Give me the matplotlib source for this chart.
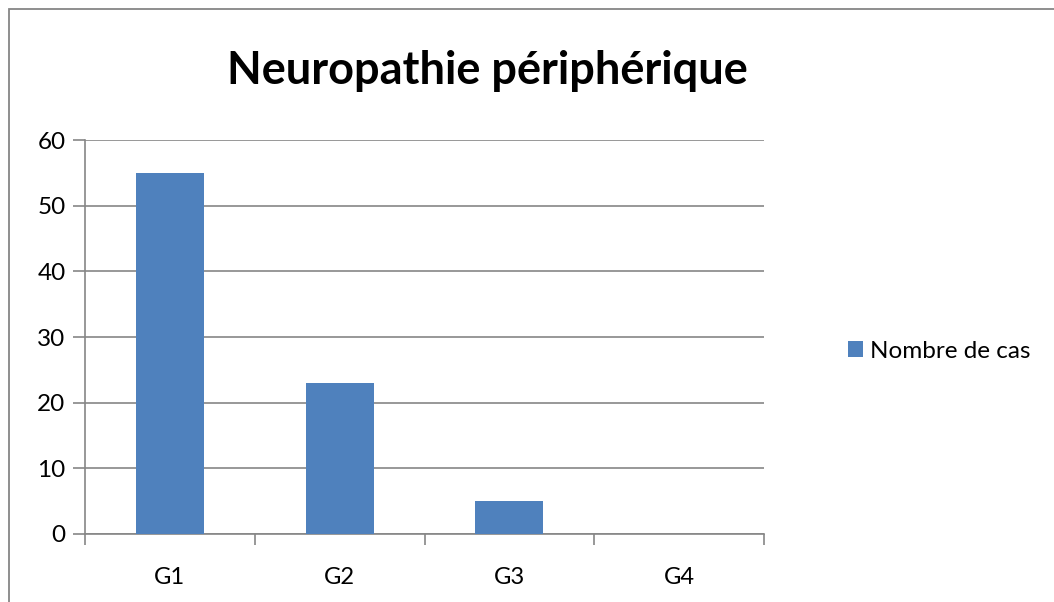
import matplotlib

matplotlib.use("Agg")
import matplotlib.pyplot as plt
from matplotlib.patches import Rectangle
import numpy as np

categories = ["G1", "G2", "G3", "G4"]
cases = [55, 23, 5, 0]
y_ticks = [0, 10, 20, 30, 40, 50, 60]

W, H = 1054, 602
grid_color = "#868686"
bar_color = "#4F81BD"
font = ["Lato", "DejaVu Sans"]

fig = plt.figure(figsize=(W / 100, H / 100), dpi=100)
fig.patches.append(
    Rectangle((9 / W, -0.1), 1.2, 1 - 9 / H + 0.1, transform=fig.transFigure,
              fill=False, edgecolor=grid_color, linewidth=1.3)
)

ax = fig.add_axes([85 / W, (H - 534) / H, 679 / W, 394 / H])
x = np.arange(len(categories))
ax.bar(x, cases, width=0.4, color=bar_color, label="Nombre de cas", zorder=3)

ax.set_xlim(-0.5, len(categories) - 0.5)
ax.set_ylim(0, 60)
ax.set_yticks(y_ticks)
ax.set_yticklabels([str(v) for v in y_ticks], fontsize=17.5, family=font)
ax.yaxis.grid(True, color=grid_color, linewidth=1.2, zorder=0)
ax.tick_params(axis="y", length=9, width=1.2, color=grid_color, pad=5)

ax.set_xticks(x)
ax.set_xticklabels(categories, fontsize=17, family=font)
ax.set_xticks(np.arange(len(categories) + 1) - 0.5, minor=True)
ax.tick_params(axis="x", which="major", length=0, pad=24)
ax.tick_params(axis="x", which="minor", length=8, width=1.2, color=grid_color)

for side in ("top", "right"):
    ax.spines[side].set_visible(False)
for side in ("left", "bottom"):
    ax.spines[side].set_color(grid_color)
    ax.spines[side].set_linewidth(1.2)

fig.text(487 / W, 1 - 71 / H, "Neuropathie périphérique", ha="center", va="center",
         fontsize=32.5, fontweight="bold", family=font)

ax.legend(loc="center left", bbox_to_anchor=(826 / W, 1 - 351 / H),
          bbox_transform=fig.transFigure, frameon=False, handlelength=0.62,
          handleheight=0.62, handletextpad=0.3, prop={"family": font, "size": 17.5})

fig.savefig("out.png", dpi=100)
